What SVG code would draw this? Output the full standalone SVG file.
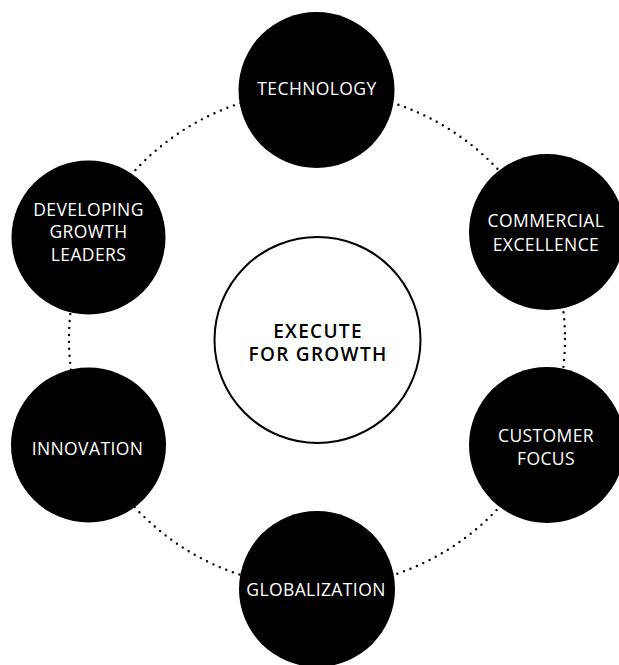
<svg xmlns="http://www.w3.org/2000/svg" width="619" height="665" viewBox="0 0 619 665">
  <style>
    .node { fill: #000; }
    .lbl { fill: #fff; font-family: "Open Sans", "Liberation Sans", sans-serif; font-size: 17.5px; letter-spacing: 0.4px; text-anchor: middle; }
    .ctr { fill: #000; font-family: "Open Sans", "Liberation Sans", sans-serif; font-size: 19px; font-weight: 600; letter-spacing: 1.3px; text-anchor: middle; }
    .ring { fill: none; stroke: #000; stroke-width: 2.4; stroke-linecap: round; stroke-dasharray: 0 6.99; }
  </style>
  <rect width="619" height="665" fill="#fff"/>
  <g id="connectors">
    <circle class="ring" cx="317" cy="339" r="248"/>
  </g>
  <g id="center">
    <circle cx="317.5" cy="340" r="103" fill="#fff" stroke="#000" stroke-width="2"/>
    <text class="ctr" x="318" y="338">EXECUTE</text>
    <text class="ctr" x="318" y="361">FOR GROWTH</text>
  </g>
  <g id="technology">
    <circle class="node" cx="316.5" cy="90" r="78"/>
    <text class="lbl" x="317" y="95">TECHNOLOGY</text>
  </g>
  <g id="commercial-excellence">
    <circle class="node" cx="547" cy="232" r="78"/>
    <text class="lbl" x="546" y="227">COMMERCIAL</text>
    <text class="lbl" x="546" y="251">EXCELLENCE</text>
  </g>
  <g id="customer-focus">
    <circle class="node" cx="547" cy="445" r="78"/>
    <text class="lbl" x="546" y="442">CUSTOMER</text>
    <text class="lbl" x="546" y="465">FOCUS</text>
  </g>
  <g id="globalization">
    <circle class="node" cx="317" cy="589" r="78"/>
    <text class="lbl" x="316" y="596">GLOBALIZATION</text>
  </g>
  <g id="innovation">
    <circle class="node" cx="88.5" cy="445" r="77.5"/>
    <text class="lbl" x="87.5" y="455">INNOVATION</text>
  </g>
  <g id="developing-growth-leaders">
    <circle class="node" cx="88.5" cy="237.5" r="77"/>
    <text class="lbl" x="88.5" y="216">DEVELOPING</text>
    <text class="lbl" x="88.5" y="238">GROWTH</text>
    <text class="lbl" x="88.5" y="261">LEADERS</text>
  </g>
</svg>
